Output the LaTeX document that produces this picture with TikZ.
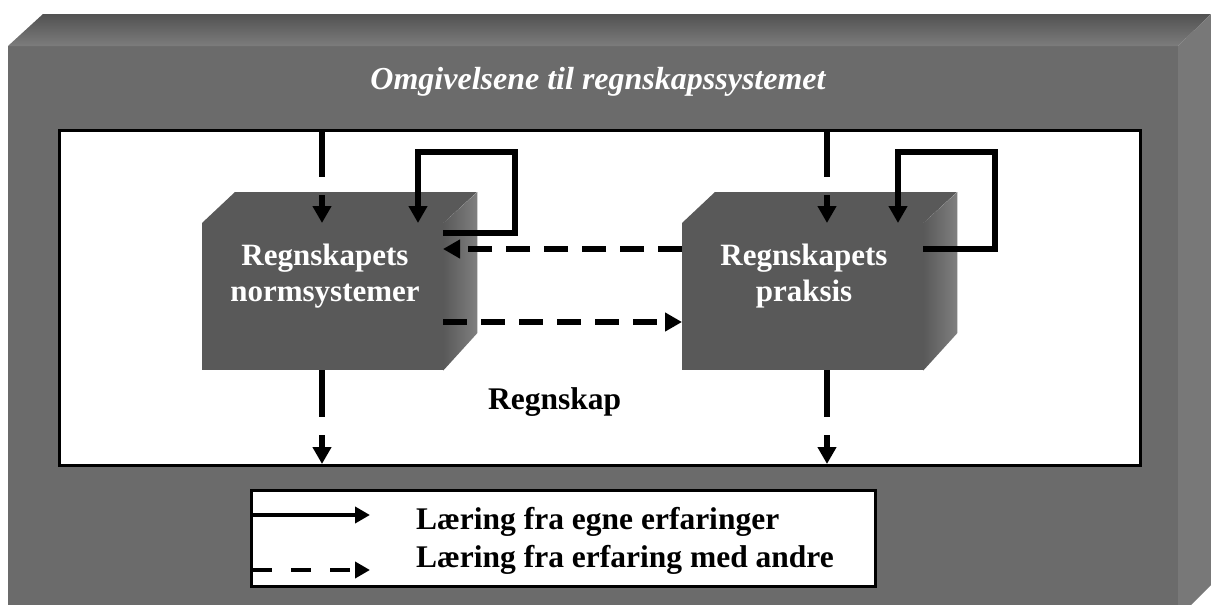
\documentclass[tikz,border=0pt]{standalone}
\usepackage{fontspec}
\setmainfont{Liberation Serif}
\usetikzlibrary{arrows.meta}

\definecolor{shellfront}{gray}{0.42}
\definecolor{shelltop}{gray}{0.36}
\definecolor{shellside}{gray}{0.47}
\definecolor{cubefront}{gray}{0.35}
\definecolor{cubeside}{gray}{0.50}

\tikzset{
  link/.style={line width=5.5pt, line join=miter},
  flow/.style={link, -{Triangle[length=17pt,width=18pt]}},
  dashflow/.style={flow, dash pattern=on 24pt off 14pt},
  keyflow/.style={line width=4pt, -{Triangle[length=15pt,width=16pt]}},
  keydash/.style={keyflow, dash pattern=on 20pt off 19pt},
  frame/.style={draw=black, line width=3pt, fill=white, inner sep=0pt, anchor=north west},
  face/.style={fill=cubefront, inner sep=0pt, anchor=north west,
               minimum width=241pt, minimum height=147pt},
  celltext/.style={text=white, font=\fontsize{31}{36}\selectfont\bfseries, align=center},
  label/.style={text=black, font=\fontsize{31.5}{36}\selectfont\bfseries, anchor=base west, inner sep=0pt},
  titletext/.style={text=white, font=\fontsize{32}{38}\selectfont\bfseries\itshape, anchor=base, inner sep=0pt}
}

\begin{document}
\begin{tikzpicture}[x=1pt,y=-1pt]
\useasboundingbox (0,0) rectangle (1211,605);

% surrounding block (cut off at the lower edge)
\begin{scope}
  \clip (0,0) rectangle (1211,605);
  \fill[shellfront] (8,46) rectangle (1178,640);
  \shade[top color=black!68, bottom color=shelltop!80!white] (8,46) -- (43,14) -- (1211,14) -- (1178,46) -- cycle;
  \fill[shellside] (1178,46) -- (1211,14) -- (1211,585) -- (1178,618) -- cycle;
\end{scope}

\node[titletext] (title) at (598,89) {Omgivelsene til regnskapssystemet};

% accounting panel
\node[frame, minimum width=1081pt, minimum height=335pt] (panel) at (58,129) {};
\node[label] (regnskap) at (488,409) {Regnskap};

% norm system block
\node[face] (norm) at (202,223) {};
\fill[cubefront] (norm.north west) -- ++(33,-31) -- ++(242,0) -- (norm.north east) -- cycle;
\shade[left color=cubefront, right color=cubeside] (norm.north east) -- ++(34,-31) -- ++(0,141) -- (norm.south east) -- cycle;
\node[celltext] (normtext) at (325,276) {Regnskapets\\normsystemer};

% practice block
\node[face] (praksis) at (682,223) {};
\fill[cubefront] (praksis.north west) -- ++(33,-31) -- ++(242,0) -- (praksis.north east) -- cycle;
\shade[left color=cubefront, right color=cubeside] (praksis.north east) -- ++(34,-31) -- ++(0,141) -- (praksis.south east) -- cycle;
\node[celltext] (praksistext) at (804,276) {Regnskapets\\praksis};

% inputs from the surroundings
\coordinate (inLa) at (322,129); \coordinate (inLb) at (322,177);
\coordinate (inLc) at (322,195); \coordinate (inLd) at (322,223);
\draw[link] (inLa) -- (inLb);
\draw[flow] (inLc) -- (inLd);
\coordinate (inRa) at (827,129); \coordinate (inRb) at (827,177);
\coordinate (inRc) at (827,195); \coordinate (inRd) at (827,223);
\draw[link] (inRa) -- (inRb);
\draw[flow] (inRc) -- (inRd);

% learning from own experience
\coordinate (loopLa) at (443,233); \coordinate (loopLb) at (515,152);
\coordinate (loopLc) at (418,223);
\draw[flow] (loopLa) -| (loopLb) -| (loopLc);
\coordinate (loopRa) at (923,249); \coordinate (loopRb) at (995,152);
\coordinate (loopRc) at (898,223);
\draw[flow] (loopRa) -| (loopRb) -| (loopRc);

% learning from each other
\coordinate (crossAa) at (682,249); \coordinate (crossAb) at (443,249);
\draw[dashflow] (crossAa) -- (crossAb);
\coordinate (crossBa) at (443,322); \coordinate (crossBb) at (682,322);
\draw[dashflow] (crossBa) -- (crossBb);

% outputs to the surroundings
\coordinate (outLa) at (322,370); \coordinate (outLb) at (322,417);
\coordinate (outLc) at (322,435); \coordinate (outLd) at (322,464);
\draw[link] (outLa) -- (outLb);
\draw[flow] (outLc) -- (outLd);
\coordinate (outRa) at (827,370); \coordinate (outRb) at (827,417);
\coordinate (outRc) at (827,435); \coordinate (outRd) at (827,464);
\draw[link] (outRa) -- (outRb);
\draw[flow] (outRc) -- (outRd);

% key
\node[frame, minimum width=624pt, minimum height=96pt] (key) at (250,489) {};
\coordinate (keyAa) at (252,515); \coordinate (keyAb) at (370,515);
\draw[keyflow] (keyAa) -- (keyAb);
\coordinate (keyBa) at (252,570); \coordinate (keyBb) at (370,570);
\draw[keydash] (keyBa) -- (keyBb);
\node[label] (keyA) at (416,529) {Læring fra egne erfaringer};
\node[label] (keyB) at (416,567) {Læring fra erfaring med andre};
\end{tikzpicture}
\end{document}
